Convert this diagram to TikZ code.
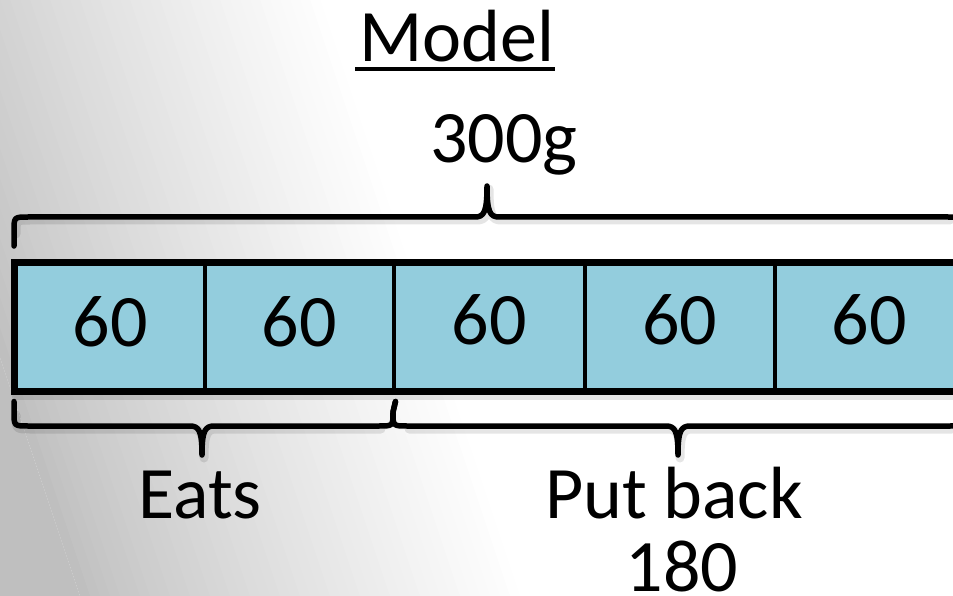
\documentclass[tikz,border=0pt]{standalone}
\usepackage{fontspec}
\setmainfont{Carlito}
\definecolor{cellblue}{RGB}{147,205,221}
\colorlet{gtone}{black!25}
\begin{document}
\begin{tikzpicture}[x=1pt,y=-1pt,
  cell/.style={draw=black, line width=3.5pt, fill=cellblue, minimum height=126pt,
    inner sep=0pt, anchor=north west, font=\fontsize{74}{80}\selectfont},
  lbl/.style={font=\fontsize{74}{80}\selectfont, anchor=base, inner sep=0pt},
  brc/.style={line width=5.5pt, line cap=round, line join=round},
  shadowline/.style={line width=9pt, draw=black, opacity=0.10, line cap=round, line join=round}]
\useasboundingbox (0,0) rectangle (953,596);
\clip (0,0) rectangle (953,596);
% background: diagonal gradient, grey at lower left to white
\fill[white] (0,0) rectangle (953,596);
\fill[gtone] (-300,0) -- (-120,0) -- (80,596) -- (-300,596) -- cycle;
\foreach \i in {0,...,44} {
  \pgfmathsetmacro\p{100*(\i/44)^0.85}
  \pgfmathsetmacro\xa{-120+10*\i}
  \pgfmathsetmacro\xb{-120+10*\i+11}
  \fill[white!\p!gtone] (\xa,0) -- (\xb,0) -- (\xb+200,596) -- (\xa+200,596) -- cycle;
}
% cells
\node[cell, minimum width=189pt, text depth=10pt] (c1) at (14,262) {60};
\node[cell, minimum width=189pt, text depth=10pt] (c2) at (203,262) {60};
\node[cell, minimum width=191pt, text depth=14pt] (c3) at (392,262) {60};
\node[cell, minimum width=190pt, text depth=14pt] (c4) at (583,262) {60};
\node[cell, minimum width=189pt, text depth=14pt] (c5) at (773,262) {60};
\draw[shadowline] ([shift={(2,4)}]c1.south west) -- ([shift={(2,4)}]c5.south east);
\draw[line width=6pt] (c1.north west) rectangle (c5.south east);
% brace end points
\coordinate (tl) at ([yshift=16pt]c1.north west);
\coordinate (tr) at ([yshift=16pt]c5.north east);
\coordinate (bl) at ([yshift=-10pt]c1.south west);
\coordinate (bm) at ([yshift=-10pt]c2.south east);
\coordinate (br) at ([yshift=-10pt]c5.south east);
% brace shadows
\begin{scope}[shift={(2,3)}]
\draw[shadowline] (14,231) .. controls (14,217) .. (28,217) -- (475,217)
  .. controls (484,217) and (487,212) .. (487,186)
  .. controls (487,212) and (490,217) .. (499,217) -- (948,217);
\draw[shadowline] (14,412) .. controls (14,426) .. (28,426) -- (190,426)
  .. controls (199,426) and (202,431) .. (202,455)
  .. controls (202,431) and (205,426) .. (214,426) -- (379,426);
\draw[shadowline] (407,426) -- (666,426)
  .. controls (675,426) and (678,431) .. (678,455)
  .. controls (678,431) and (681,426) .. (690,426) -- (950,426);
\end{scope}
% top brace
\draw[brc] (tl) -- (14,231) .. controls (14,217) .. (28,217) -- (475,217)
  .. controls (484,217) and (487,212) .. (487,186)
  .. controls (487,212) and (490,217) .. (499,217) -- (948,217)
  .. controls (962,217) .. (962,231) -- (tr);
% bottom braces
\draw[brc] (bl) -- (14,412) .. controls (14,426) .. (28,426) -- (190,426)
  .. controls (199,426) and (202,431) .. (202,455)
  .. controls (202,431) and (205,426) .. (214,426) -- (379,426)
  .. controls (393,426) .. (393,412) -- (bm);
\draw[brc] (bm) -- (393,412) .. controls (393,426) .. (407,426) -- (666,426)
  .. controls (675,426) and (678,431) .. (678,455)
  .. controls (678,431) and (681,426) .. (690,426) -- (950,426)
  .. controls (964,426) .. (964,412) -- (br);
% labels
\node[lbl] (model) at (457,62) {Model};
\draw[line width=4pt] ([yshift=-7pt,xshift=-4pt]model.base west) -- ([yshift=-7pt]model.base east);
\node[lbl] (total) at (504,163) {300g};
\node[lbl] (eats) at (200,518) {Eats};
\node[lbl] (putback) at (674,518) {Put back};
\node[lbl] (oneeighty) at (682,591) {180};
\end{tikzpicture}
\end{document}
